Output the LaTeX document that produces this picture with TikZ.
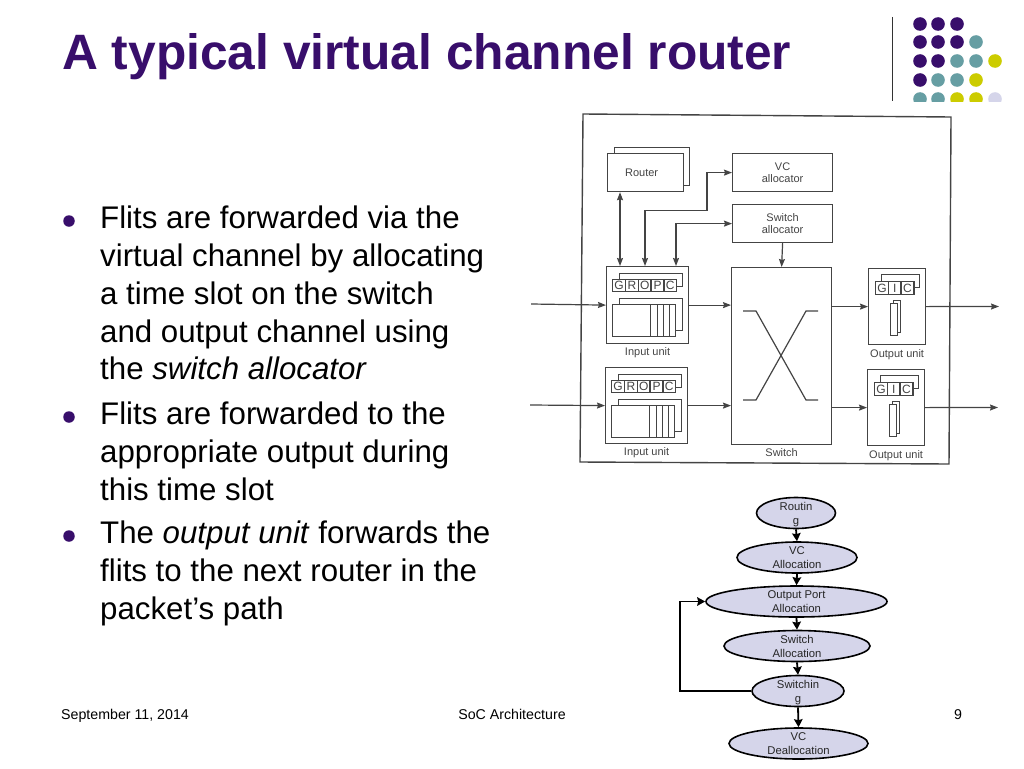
\documentclass[tikz,border=0pt]{standalone}
\usepackage{fontspec}
\setmainfont{Liberation Sans}
\usetikzlibrary{shapes.geometric,arrows.meta}
\definecolor{slidepurple}{HTML}{380E6B}
\definecolor{slideteal}{HTML}{669EA3}
\definecolor{slideyellow}{HTML}{CCCC00}
\definecolor{slidelilac}{HTML}{D5D5EA}
\definecolor{scangrey}{HTML}{444444}
\begin{document}
\begin{tikzpicture}[]
      \coordinate (origo) at (0mm,0mm);
      \useasboundingbox (origo) rectangle (1024pt,-768pt);

      \tikzstyle{cell} = [
        rectangle,
        draw=scangrey,
        fill=white,
        line width=1.2pt,
        anchor=north west,
        inner sep=0pt,
        text=scangrey,
        align=center,
        font=\fontsize{11}{12.5}\selectfont
      ]
      \tikzstyle{statecell} = [
        cell,
        line width=1.4pt,
        font=\fontsize{12}{13}\selectfont
      ]
      \tikzstyle{celllabel} = [
        draw=none,
        anchor=north,
        inner sep=0pt,
        text=scangrey,
        font=\fontsize{11}{13}\selectfont
      ]
      \tikzstyle{wire} = [line width=1.2pt,draw=scangrey]
      \tikzstyle{slot} = [line width=0.8pt,draw=scangrey]
      \tikzstyle{stage} = [
        ellipse,
        draw=black,
        fill=slidelilac,
        line width=1.6pt,
        inner sep=0pt,
        minimum height=31pt
      ]
      \tikzstyle{stagelabel} = [
        draw=none,
        inner sep=0pt,
        align=center,
        text=black!85,
        font=\fontsize{11.3}{14}\selectfont
      ]
      \tikzstyle{bullet} = [circle,fill=slidepurple,inner sep=0pt,minimum size=11.5pt]
      \tikzstyle{bodytext} = [
        anchor=north west,
        inner sep=0pt,
        align=left,
        font=\fontsize{31.25}{37.75}\selectfont
      ]
      \tikzstyle{footer} = [inner sep=0pt,text height=10pt,text depth=3pt,font=\fontsize{14.2}{16}\selectfont]
      \tikzstyle{dot} = [radius=6.8pt]

      \tikzstyle{arrow} = [wire,->,>={Stealth[length=8pt,width=6pt,inset=1pt]}]
      \tikzstyle{both} = [wire,<->,>={Stealth[length=8pt,width=6pt,inset=1pt]}]
      \tikzstyle{flow} = [line width=1.8pt,->,>={Stealth[length=8pt,width=8.5pt,inset=1pt]},draw=black]

      % title
      \node[anchor=west,inner sep=0pt,text=slidepurple,font=\fontsize{49.7}{54}\selectfont\bfseries] (title) at ([xshift=62pt,yshift=-57pt] origo) {A typical virtual channel router};

      % logo
      \coordinate (ruleTop) at ([xshift=892pt,yshift=-17pt] origo);
      \coordinate (ruleBottom) at ([xshift=892pt,yshift=-101pt] origo);
      \draw[line width=1pt,draw=black!80] (ruleTop) -- (ruleBottom);
      \begin{scope}
        \clip ([xshift=900pt,yshift=-10pt] origo) rectangle ([xshift=1010pt,yshift=-101pt] origo);
        \fill[slidepurple,dot] ([xshift=920pt,yshift=-24pt] origo) circle;
        \fill[slidepurple,dot] ([xshift=938pt,yshift=-24pt] origo) circle;
        \fill[slidepurple,dot] ([xshift=957pt,yshift=-24pt] origo) circle;
        \fill[slidepurple,dot] ([xshift=920pt,yshift=-42pt] origo) circle;
        \fill[slidepurple,dot] ([xshift=938pt,yshift=-42pt] origo) circle;
        \fill[slidepurple,dot] ([xshift=957pt,yshift=-42pt] origo) circle;
        \fill[slideteal,dot] ([xshift=976pt,yshift=-42pt] origo) circle;
        \fill[slidepurple,dot] ([xshift=920pt,yshift=-61pt] origo) circle;
        \fill[slidepurple,dot] ([xshift=938pt,yshift=-61pt] origo) circle;
        \fill[slideteal,dot] ([xshift=957pt,yshift=-61pt] origo) circle;
        \fill[slideteal,dot] ([xshift=976pt,yshift=-61pt] origo) circle;
        \fill[slideyellow,dot] ([xshift=995pt,yshift=-61pt] origo) circle;
        \fill[slidepurple,dot] ([xshift=920pt,yshift=-80pt] origo) circle;
        \fill[slideteal,dot] ([xshift=938pt,yshift=-80pt] origo) circle;
        \fill[slideteal,dot] ([xshift=957pt,yshift=-80pt] origo) circle;
        \fill[slideyellow,dot] ([xshift=976pt,yshift=-80pt] origo) circle;
        \fill[slideteal,dot] ([xshift=920pt,yshift=-99pt] origo) circle;
        \fill[slideteal,dot] ([xshift=938pt,yshift=-99pt] origo) circle;
        \fill[slideyellow,dot] ([xshift=957pt,yshift=-99pt] origo) circle;
        \fill[slideyellow,dot] ([xshift=976pt,yshift=-99pt] origo) circle;
        \fill[slidelilac,dot] ([xshift=995pt,yshift=-99pt] origo) circle;
      \end{scope}

      % bullets
      \node[bullet] (bullet1) at ([xshift=69pt,yshift=-221pt] origo) {};
      \node[bodytext] (body1) at ([xshift=100pt,yshift=-206pt] origo) {Flits are forwarded via the\\virtual channel by allocating\\a time slot on the switch\\and output channel using\\the \textit{switch allocator}};
      \node[bullet] (bullet2) at ([xshift=69pt,yshift=-417pt] origo) {};
      \node[bodytext] (body2) at ([xshift=100pt,yshift=-402pt] origo) {Flits are forwarded to the\\appropriate output during\\this time slot};
      \node[bullet] (bullet3) at ([xshift=69pt,yshift=-536pt] origo) {};
      \node[bodytext] (body3) at ([xshift=100pt,yshift=-521pt] origo) {The \textit{output unit} forwards the\\flits to the next router in the\\packet’s path};

      % footer
      \node[footer,anchor=west] (footerDate) at ([xshift=61pt,yshift=-716pt] origo) {September 11, 2014};
      \node[footer] (footerName) at ([xshift=512pt,yshift=-716pt] origo) {SoC Architecture};
      \node[footer] (footerPage) at ([xshift=958pt,yshift=-716pt] origo) {9};

      % frame
      \coordinate (frameNW) at ([xshift=583pt,yshift=-114pt] origo);
      \coordinate (frameNE) at ([xshift=951pt,yshift=-117pt] origo);
      \coordinate (frameSE) at ([xshift=949pt,yshift=-464pt] origo);
      \coordinate (frameSW) at ([xshift=580pt,yshift=-462pt] origo);
      \draw[line width=1.4pt,draw=scangrey] (frameNW) -- (frameNE) -- (frameSE) -- (frameSW) -- cycle;

      % router and allocators
      \node[cell,minimum width=75pt,minimum height=38pt] (routerBack) at ([xshift=614pt,yshift=-147pt] origo) {};
      \node[cell,minimum width=76pt,minimum height=38pt] (router) at ([xshift=607pt,yshift=-153pt] origo) {Router\hspace*{8pt}};
      \node[cell,minimum width=100pt,minimum height=38pt] (vcAlloc) at ([xshift=732pt,yshift=-153pt] origo) {VC\\allocator};
      \node[cell,minimum width=100pt,minimum height=38pt] (switchAlloc) at ([xshift=732pt,yshift=-204pt] origo) {Switch\\allocator};

      % switch
      \node[cell,minimum width=100pt,minimum height=177pt] (switch) at ([xshift=731pt,yshift=-267pt] origo) {};
      \node[celllabel] (switchLabel) at ([yshift=-3pt] switch.south) {Switch};
      \draw[wire] ([xshift=12pt,yshift=-44pt] switch.north west) -- ([xshift=25pt,yshift=-44pt] switch.north west) -- ([xshift=75pt,yshift=-133pt] switch.north west) -- ([xshift=87pt,yshift=-133pt] switch.north west);
      \draw[wire] ([xshift=12pt,yshift=-133pt] switch.north west) -- ([xshift=25pt,yshift=-133pt] switch.north west) -- ([xshift=75pt,yshift=-44pt] switch.north west) -- ([xshift=87pt,yshift=-44pt] switch.north west);

      % input unit 1
      \node[cell,minimum width=82pt,minimum height=77pt] (input1) at ([xshift=606pt,yshift=-266pt] origo) {};
      \node[celllabel] (input1Label) at ([yshift=-3pt] input1.south) {Input unit};
      \node[cell,minimum width=63pt,minimum height=13pt] (input1StateBack) at ([xshift=13pt,yshift=-7pt] input1.north west) {};
      \node[statecell,minimum width=12.8pt,minimum height=12pt] (input1G) at ([xshift=6pt,yshift=-13pt] input1.north west) {G};
      \node[statecell,minimum width=12.8pt,minimum height=12pt] (input1R) at ([xshift=18.8pt,yshift=-13pt] input1.north west) {R};
      \node[statecell,minimum width=12.8pt,minimum height=12pt] (input1O) at ([xshift=31.6pt,yshift=-13pt] input1.north west) {O};
      \node[statecell,minimum width=12.8pt,minimum height=12pt] (input1P) at ([xshift=44.4pt,yshift=-13pt] input1.north west) {P};
      \node[statecell,minimum width=12.8pt,minimum height=12pt] (input1C) at ([xshift=57.2pt,yshift=-13pt] input1.north west) {C};
      \node[cell,minimum width=63pt,minimum height=32pt] (input1BufBack) at ([xshift=13pt,yshift=-32pt] input1.north west) {};
      \node[cell,minimum width=63pt,minimum height=32pt] (input1Buf) at ([xshift=6pt,yshift=-38pt] input1.north west) {};
      \draw[slot] ([xshift=38pt] input1Buf.north west) -- ([xshift=38pt] input1Buf.south west);
      \draw[slot] ([xshift=45pt] input1Buf.north west) -- ([xshift=45pt] input1Buf.south west);
      \draw[slot] ([xshift=51pt] input1Buf.north west) -- ([xshift=51pt] input1Buf.south west);
      \draw[slot] ([xshift=57pt] input1Buf.north west) -- ([xshift=57pt] input1Buf.south west);

      % input unit 2
      \node[cell,minimum width=82pt,minimum height=76pt] (input2) at ([xshift=605pt,yshift=-367pt] origo) {};
      \node[celllabel] (input2Label) at ([yshift=-3pt] input2.south) {Input unit};
      \node[cell,minimum width=63pt,minimum height=13pt] (input2StateBack) at ([xshift=13pt,yshift=-7pt] input2.north west) {};
      \node[statecell,minimum width=12.8pt,minimum height=12pt] (input2G) at ([xshift=6pt,yshift=-13pt] input2.north west) {G};
      \node[statecell,minimum width=12.8pt,minimum height=12pt] (input2R) at ([xshift=18.8pt,yshift=-13pt] input2.north west) {R};
      \node[statecell,minimum width=12.8pt,minimum height=12pt] (input2O) at ([xshift=31.6pt,yshift=-13pt] input2.north west) {O};
      \node[statecell,minimum width=12.8pt,minimum height=12pt] (input2P) at ([xshift=44.4pt,yshift=-13pt] input2.north west) {P};
      \node[statecell,minimum width=12.8pt,minimum height=12pt] (input2C) at ([xshift=57.2pt,yshift=-13pt] input2.north west) {C};
      \node[cell,minimum width=63pt,minimum height=32pt] (input2BufBack) at ([xshift=13pt,yshift=-32pt] input2.north west) {};
      \node[cell,minimum width=63pt,minimum height=32pt] (input2Buf) at ([xshift=6pt,yshift=-38pt] input2.north west) {};
      \draw[slot] ([xshift=38pt] input2Buf.north west) -- ([xshift=38pt] input2Buf.south west);
      \draw[slot] ([xshift=45pt] input2Buf.north west) -- ([xshift=45pt] input2Buf.south west);
      \draw[slot] ([xshift=51pt] input2Buf.north west) -- ([xshift=51pt] input2Buf.south west);
      \draw[slot] ([xshift=57pt] input2Buf.north west) -- ([xshift=57pt] input2Buf.south west);

      % output unit 1
      \node[cell,minimum width=57pt,minimum height=76pt] (output1) at ([xshift=868pt,yshift=-268pt] origo) {};
      \node[celllabel] (output1Label) at ([yshift=-4pt] output1.south) {Output unit};
      \node[cell,minimum width=38pt,minimum height=13pt] (output1StateBack) at ([xshift=13pt,yshift=-6pt] output1.north west) {};
      \node[statecell,minimum width=12.7pt,minimum height=13pt] (output1G) at ([xshift=7pt,yshift=-13pt] output1.north west) {G};
      \node[statecell,minimum width=12.7pt,minimum height=13pt] (output1I) at ([xshift=19.7pt,yshift=-13pt] output1.north west) {I};
      \node[statecell,minimum width=12.7pt,minimum height=13pt] (output1C) at ([xshift=32.4pt,yshift=-13pt] output1.north west) {C};
      \node[cell,minimum width=7pt,minimum height=32pt] (output1BufBack) at ([xshift=25pt,yshift=-32pt] output1.north west) {};
      \node[cell,minimum width=7pt,minimum height=32pt] (output1Buf) at ([xshift=22pt,yshift=-35pt] output1.north west) {};

      % output unit 2
      \node[cell,minimum width=57pt,minimum height=76pt] (output2) at ([xshift=867pt,yshift=-369pt] origo) {};
      \node[celllabel] (output2Label) at ([yshift=-4pt] output2.south) {Output unit};
      \node[cell,minimum width=38pt,minimum height=13pt] (output2StateBack) at ([xshift=13pt,yshift=-6pt] output2.north west) {};
      \node[statecell,minimum width=12.7pt,minimum height=13pt] (output2G) at ([xshift=7pt,yshift=-13pt] output2.north west) {G};
      \node[statecell,minimum width=12.7pt,minimum height=13pt] (output2I) at ([xshift=19.7pt,yshift=-13pt] output2.north west) {I};
      \node[statecell,minimum width=12.7pt,minimum height=13pt] (output2C) at ([xshift=32.4pt,yshift=-13pt] output2.north west) {C};
      \node[cell,minimum width=7pt,minimum height=32pt] (output2BufBack) at ([xshift=25pt,yshift=-32pt] output2.north west) {};
      \node[cell,minimum width=7pt,minimum height=32pt] (output2Buf) at ([xshift=22pt,yshift=-35pt] output2.north west) {};

      % free ends
      \coordinate (inWire1) at ([xshift=531pt,yshift=-304pt] origo);
      \coordinate (inWire2) at ([xshift=530pt,yshift=-405pt] origo);
      \coordinate (outWire1) at ([xshift=999pt,yshift=-306.5pt] origo);
      \coordinate (outWire2) at ([xshift=998pt,yshift=-407.5pt] origo);

      % wires
      \draw[both] ([xshift=13pt] router.south west) -- ([xshift=14pt] input1.north west);
      \draw[both] ([xshift=39pt] input1.north west) |- ([xshift=-25pt,yshift=-38pt] vcAlloc.west) |- (vcAlloc.west);
      \draw[both] ([xshift=70pt] input1.north west) |- (switchAlloc.west);
      \draw[arrow] (switchAlloc.south) -- (switch.north);
      \draw[arrow] (inWire1) -- (input1.west);
      \draw[arrow] (inWire2) -- (input2.west);
      \draw[arrow] (input1.east) -- (input1.east -| switch.west);
      \draw[arrow] (input2.east) -- (input2.east -| switch.west);
      \draw[arrow] (output1.west -| switch.east) -- (output1.west);
      \draw[arrow] (output2.west -| switch.east) -- (output2.west);
      \draw[arrow] (output1.east) -- (outWire1);
      \draw[arrow] (output2.east) -- (outWire2);

      % flow stages
      \node[stage,minimum width=79pt] (stageRouting) at ([xshift=796pt,yshift=-513pt] origo) {};
      \node[stage,minimum width=120pt] (stageVC) at ([xshift=797pt,yshift=-557.5pt] origo) {};
      \node[stage,minimum width=181pt] (stageOutput) at ([xshift=796.5pt,yshift=-601.5pt] origo) {};
      \node[stage,minimum width=146pt] (stageSwitchAlloc) at ([xshift=797pt,yshift=-646pt] origo) {};
      \node[stage,minimum width=92pt] (stageSwitching) at ([xshift=798pt,yshift=-691pt] origo) {};
      \node[stage,minimum width=139pt] (stageDealloc) at ([xshift=798.5pt,yshift=-743.5pt] origo) {};
      \node[stagelabel] (stageRoutingLabel) at ([yshift=-1.5pt] stageRouting.center) {Routin\\g};
      \node[stagelabel] (stageVCLabel) at (stageVC.center) {VC\\Allocation};
      \node[stagelabel] (stageOutputLabel) at (stageOutput.center) {Output Port\\Allocation};
      \node[stagelabel] (stageSwitchAllocLabel) at (stageSwitchAlloc.center) {Switch\\Allocation};
      \node[stagelabel] (stageSwitchingLabel) at ([yshift=-1.5pt] stageSwitching.center) {Switchin\\g};
      \node[stagelabel] (stageDeallocLabel) at (stageDealloc.center) {VC\\Deallocation};

      % flow arrows
      \draw[flow] (stageRouting.south) -- (stageVC.north);
      \draw[flow] (stageVC.south) -- (stageOutput.north);
      \draw[flow] (stageOutput.south) -- (stageSwitchAlloc.north);
      \draw[flow] (stageSwitchAlloc.south) -- (stageSwitching.north);
      \draw[flow] (stageSwitching.south) -- (stageDealloc.north);
      \draw[flow] (stageSwitching.west) -| ([xshift=-25pt] stageOutput.west) -- (stageOutput.west);
    \end{tikzpicture}
\end{document}
